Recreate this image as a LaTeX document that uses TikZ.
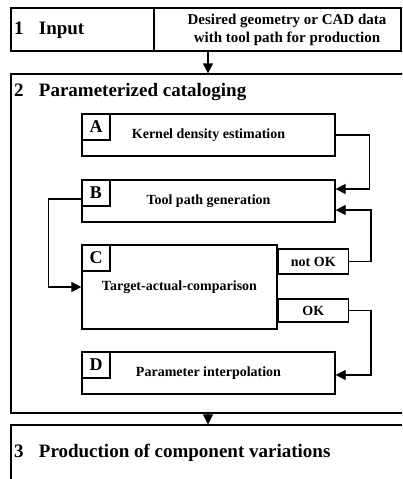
\documentclass[tikz,border=0pt]{standalone}
\usepackage{fontspec}
\setmainfont{Liberation Serif}
\usetikzlibrary{arrows.meta, positioning, calc}
\tikzset{
  stage/.style={rectangle, draw, line width=1.3pt, inner sep=0pt},
  stepbox/.style={rectangle, draw, line width=1.3pt, inner sep=0pt,
    minimum width=253pt, minimum height=42pt,
    font=\bfseries\fontsize{14}{16}\selectfont},
  tag/.style={rectangle, draw, line width=1.3pt, inner sep=0pt,
    minimum width=28pt, minimum height=26pt, anchor=north west,
    font=\bfseries\fontsize{18}{20}\selectfont},
  flag/.style={rectangle, draw, line width=1.3pt, inner sep=0pt,
    minimum width=70pt, anchor=north west,
    font=\bfseries\fontsize{14}{16}\selectfont},
  title/.style={anchor=west, inner sep=0pt,
    font=\bfseries\fontsize{19}{22}\selectfont},
  arrow/.style={-{Triangle[length=10pt,width=10pt]}, line width=1.3pt}
}

\begin{document}
\begin{tikzpicture}[x=1pt, y=-1pt]
  \clip (0,0) rectangle (402,479);

  % Stages
  \node[stage, minimum width=143pt, minimum height=43pt] (input) at (82.5,29.5) {};
  \node[stage, minimum width=247pt, minimum height=43pt] (desired) at (277.5,29.5) {};
  \node[title] (inputlbl) at (14,30) {1\hspace{0.8em}Input};
  \node[align=center, inner sep=0pt, font=\bfseries\fontsize{15}{18}\selectfont]
    (desiredlbl) at ($(desired.center)+(9.5,0)$) {Desired geometry or CAD data\\with tool path for production};
  \node[stage, minimum width=420pt, minimum height=339pt] (cat) at (221,243.5) {};
  \node[title] (catlbl) at (14,92) {2\hspace{0.8em}Parameterized cataloging};
  \node[stage, minimum width=420pt, minimum height=95pt] (prod) at (221,472.5) {};
  \node[title] (prodlbl) at (14,453) {3\hspace{0.8em}Production of component variations};

  % Steps
  \node[stepbox] (kde) at (208.5,135) {Kernel density estimation};
  \node[stepbox] (tpg) at (208.5,201) {Tool path generation};
  \node[stepbox, minimum width=195pt, minimum height=84pt] (cmp) at (179.5,287) {Target-actual-comparison};
  \node[stepbox] (interp) at (208.5,373) {Parameter interpolation};
  \node[tag] (tagA) at (kde.north west) {A};
  \node[tag] (tagB) at (tpg.north west) {B};
  \node[tag] (tagC) at (cmp.north west) {C};
  \node[tag] (tagD) at (interp.north west) {D};
  \node[flag, minimum height=25pt] (notok) at ($(cmp.north east)+(0,4)$) {not OK};
  \node[flag, minimum height=23pt] (ok) at ($(cmp.north east)+(0,54)$) {OK};

  % Arrows
  \coordinate (mid) at (208,0);
  \draw[arrow] (desired.south -| mid) -- (cat.north -| mid);
  \draw[arrow] (cat.south -| mid) -- (prod.north -| mid);
  \draw[arrow] (kde.east) -- ++(34,0) |- ($(tpg.east)+(0,-12)$);
  \draw[arrow] (notok.east) -- ++(22,0) |- ($(tpg.east)+(0,9)$);
  \draw[arrow] (ok.east) -- ++(22,0) |- ($(interp.east)+(0,2)$);
  \draw[arrow] ($(tpg.west)+(0,-2)$) -- ++(-33,0) |- (cmp.west);
\end{tikzpicture}
\end{document}
